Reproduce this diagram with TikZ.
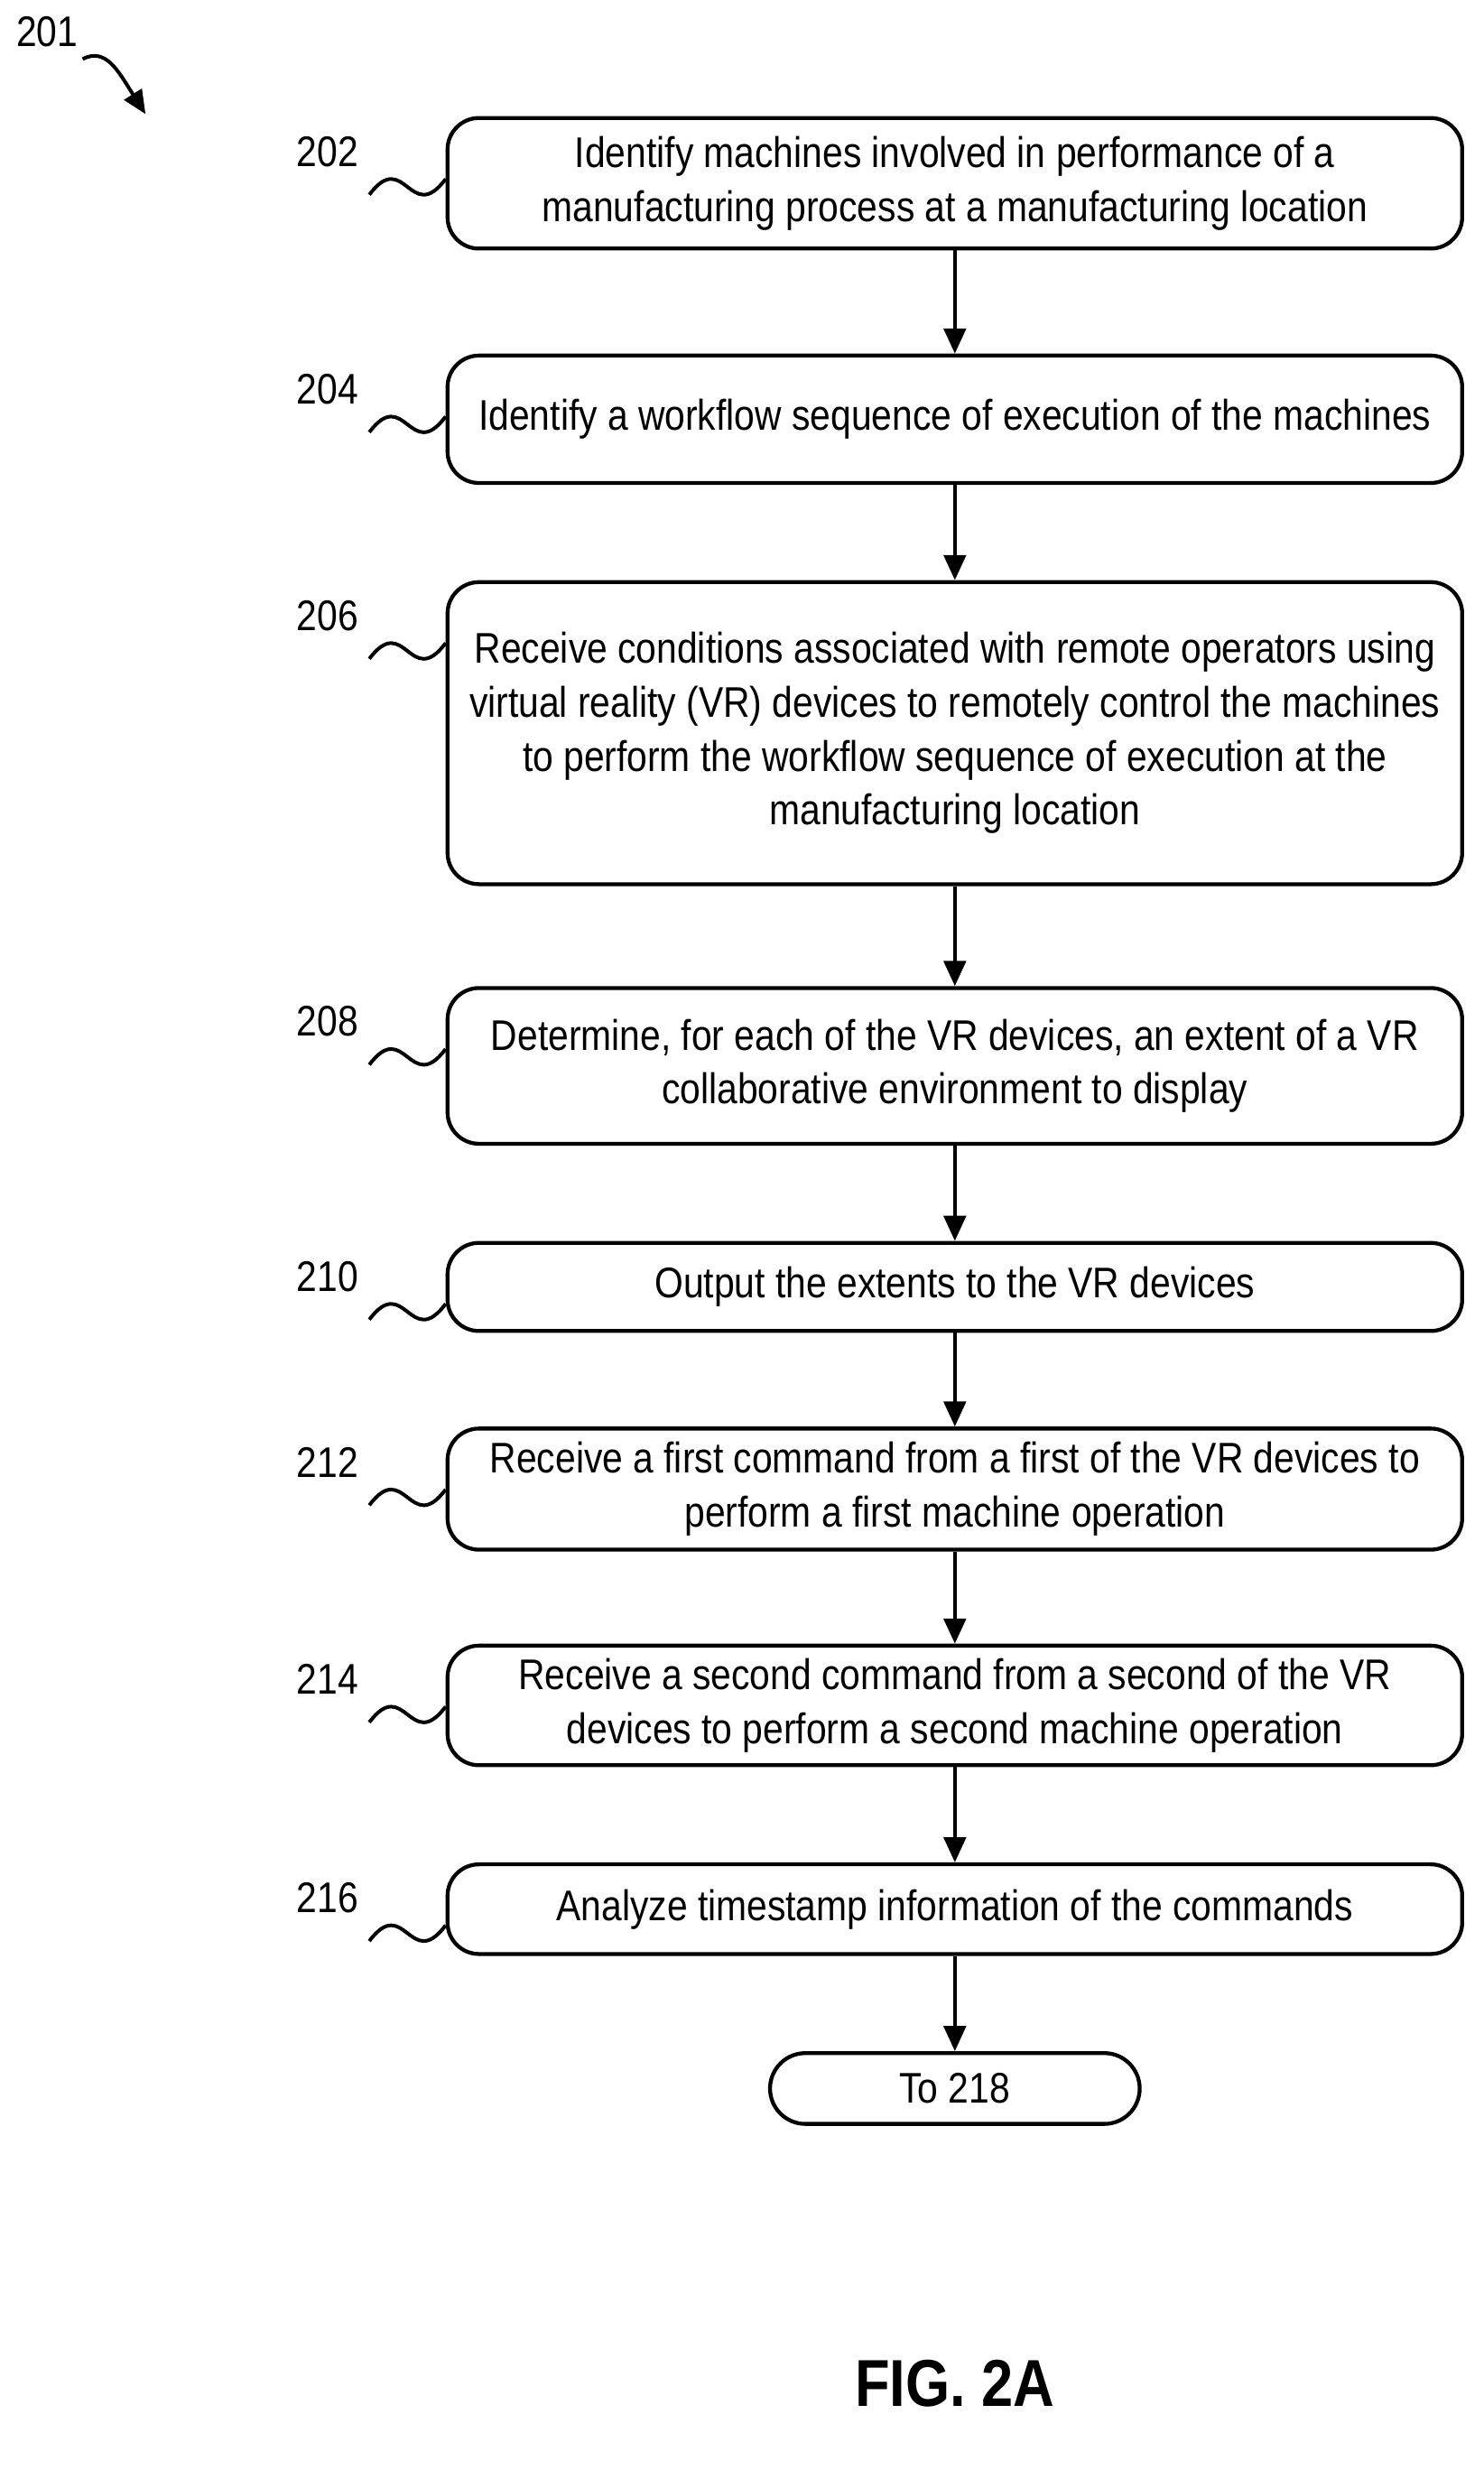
\documentclass[tikz,border=0pt]{standalone}
\usepackage{fontspec}
\setmainfont{Liberation Sans}[FakeStretch=0.86]
\usetikzlibrary{arrows.meta,positioning}
\tikzset{
  stepbox/.style={draw,line width=1.4pt,rounded corners=0.4cm,minimum width=12.9cm,align=center,font=\fontsize{15.5}{19.5}\selectfont},
  flow/.style={line width=1.4pt,-{Triangle[length=0.32cm,width=0.28cm]}},
  ref/.style={font=\fontsize{15.5}{18}\selectfont},
  wave/.style={line width=1.3pt}
}
\begin{document}
\begin{tikzpicture}
	\useasboundingbox (0,0) rectangle (18.86,-31.4);
	% Schritte
	\node[stepbox,minimum height=1.66cm] (s202) at (12.14,-2.33) {Identify machines involved in performance of a\\manufacturing process at a manufacturing location};
	\node[stepbox,minimum height=1.62cm] (s204) at (12.14,-5.33) {Identify a workflow sequence of execution of the machines};
	\node[stepbox,minimum height=3.84cm] (s206) at (12.14,-9.32) {Receive conditions associated with remote operators using\\virtual reality (VR) devices to remotely control the machines\\to perform the workflow sequence of execution at the\\manufacturing location};
	\node[stepbox,minimum height=1.98cm] (s208) at (12.14,-13.55) {Determine, for each of the VR devices, an extent of a VR\\collaborative environment to display};
	\node[stepbox,minimum height=1.12cm] (s210) at (12.14,-16.36) {Output the extents to the VR devices};
	\node[stepbox,minimum height=1.54cm] (s212) at (12.14,-18.93) {Receive a first command from a first of the VR devices to\\perform a first machine operation};
	\node[stepbox,minimum height=1.52cm] (s214) at (12.14,-21.68) {Receive a second command from a second of the VR\\devices to perform a second machine operation};
	\node[stepbox,minimum height=1.14cm] (s216) at (12.14,-24.27) {Analyze timestamp information of the commands};
	\node[stepbox,minimum height=0.9cm,minimum width=4.7cm,rounded corners=0.45cm] (s218) at (12.14,-26.55) {To 218};
	% Pfeile
	\foreach \a/\b in {s202/s204,s204/s206,s206/s208,s208/s210,s210/s212,s212/s214,s214/s216,s216/s218}
		\draw[flow] (\a) -- (\b);
	% Bezugszeichen
	\foreach \n in {202,204,206,208,210,212,214,216} {
		\node[ref] (l\n) at ([xshift=-1.5cm,yshift=-0.45cm]s\n.north west) {\n};
		\coordinate (w\n) at ([xshift=-0.97cm,yshift=-1.0cm]s\n.north west);
		\coordinate (e\n) at ([yshift=-0.8cm]s\n.north west);
		\draw[wave] (w\n) .. controls +(0.45,0.6) and +(-0.45,-0.6) .. (e\n);
	}
	% Gesamtbezug
	\node[ref] (l201) at (0.6,-0.4) {201};
	\coordinate (p201) at (1.85,-1.45);
	\draw[line width=1.3pt,-{Triangle[length=0.3cm,width=0.26cm]}] (1.05,-0.75) .. controls (1.35,-0.6) and (1.5,-0.9) .. (p201);
	% Figur
	\node[font=\bfseries\fontsize{24}{28}\selectfont] (fig) at (12.14,-30.3) {FIG. 2A};
\end{tikzpicture}
\end{document}
